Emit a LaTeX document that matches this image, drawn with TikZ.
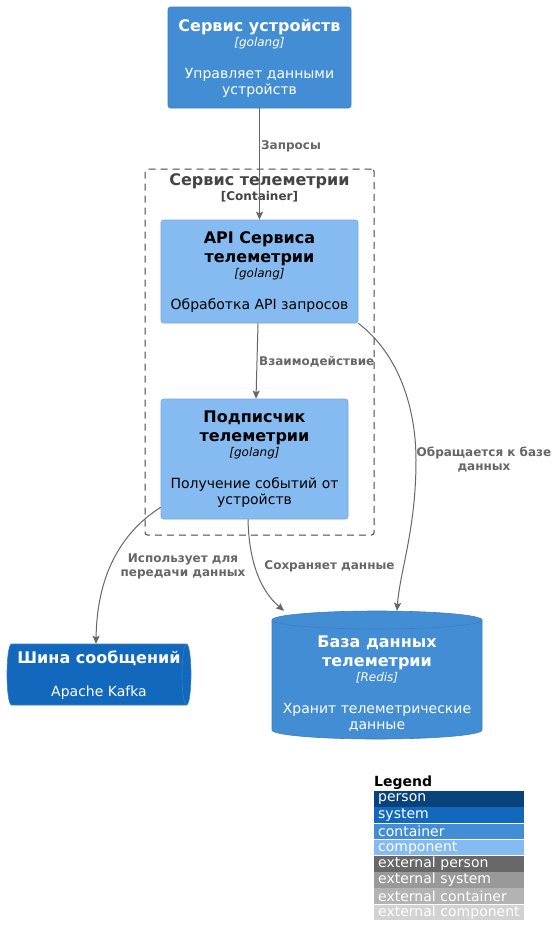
\documentclass[tikz,border=0pt]{standalone}
\usepackage{fontspec}
\setmainfont{DejaVu Sans}
\usetikzlibrary{arrows.meta}
\definecolor{personc}{HTML}{08427B}
\definecolor{systemc}{HTML}{1168BD}
\definecolor{contc}{HTML}{438DD5}
\definecolor{compc}{HTML}{85BBF0}
\definecolor{extpc}{HTML}{686868}
\definecolor{extsc}{HTML}{999999}
\definecolor{extcc}{HTML}{B3B3B3}
\definecolor{extcompc}{HTML}{D2D2D2}
\definecolor{contborder}{HTML}{3C7FC0}
\definecolor{compborder}{HTML}{78A8D8}
\definecolor{relc}{HTML}{666666}
\definecolor{bndc}{HTML}{444444}
\newcommand\ttlf{\fontsize{16}{16.5}\selectfont\bfseries}
\newcommand\techf{\fontsize{12}{16.5}\selectfont\itshape}
\newcommand\descf{\fontsize{14}{16.5}\selectfont}
\newcommand\rellf{\fontsize{12}{14}\selectfont\bfseries}
\newcommand\hstr[1]{\rule{0pt}{#1pt}}
\newcommand\dstr{\rule[-4pt]{0pt}{4pt}}
\begin{document}
\begin{tikzpicture}[x=1pt,y=1pt,
  box/.style={rectangle, rounded corners=2.5pt, inner sep=0pt, align=center, font=\descf, line width=0.6pt},
  contbox/.style={box, fill=contc, draw=contborder, text=white},
  compbox/.style={box, fill=compc, draw=compborder, text=black},
  plaintext/.style={inner sep=0pt, align=center, font=\descf},
  rel/.style={draw=relc, line width=1pt, -{Stealth[length=8pt,width=7pt,inset=1.5pt]}},
  rellbl/.style={font=\rellf, text=relc, inner sep=0pt, align=center},
  legrow/.style={anchor=north west, minimum width=150pt, minimum height=15.6pt, text width=142pt, inner xsep=4pt, inner ysep=0pt, align=left, text=white, font=\fontsize{14}{16}\selectfont}
]
\useasboundingbox (0,0) rectangle (554,-946);
\fill[white] (0,0) rectangle (554,-946);

% boundary
\node[draw=bndc, dash pattern=on 7pt off 5pt, rounded corners=2.5pt, line width=1pt, minimum width=229pt, minimum height=366pt, inner sep=0pt] (bnd) at (259.5,-352) {};
\node[plaintext, text=bndc, font=\fontsize{12}{16.5}\selectfont\bfseries] (bndtitle) at (259.5,-188.45)
  {{\ttlf\hstr{12}Сервис телеметрии}\\[-1.9pt]\rule[-3.5pt]{0pt}{3.5pt}[Container]};

% device service
\node[contbox, minimum width=183pt, minimum height=101pt] (dev) at (259.5,-57.5)
  {{\ttlf\hstr{14.5}Сервис устройств}\\[-1.6pt]{\techf [golang]}\\[15.6pt]Управляет данными\\[-0.2pt]устройств\dstr};

% API
\node[compbox, minimum width=197pt, minimum height=103pt] (api) at (259.5,-271.5)
  {{\ttlf\hstr{14}API Сервиса}\\[2.1pt]{\ttlf телеметрии}\\[-1.6pt]{\techf [golang]}\\[15.6pt]Обработка API запросов\dstr};

% subscriber
\node[compbox, minimum width=187pt, minimum height=120pt] (sub) at (254.5,-459)
  {{\ttlf\hstr{13.3}Подписчик}\\[2.1pt]{\ttlf телеметрии}\\[-1.6pt]{\techf [golang]}\\[15.6pt]Получение событий от\\[-0.2pt]устройств\dstr};

% message bus (queue)
\path[fill=systemc, draw=contborder, line width=0.6pt] (11.5,-644) -- (186.5,-644)
  arc[start angle=90, end angle=-90, x radius=4.5pt, y radius=30.5pt] -- (11.5,-705)
  arc[start angle=270, end angle=90, x radius=4.5pt, y radius=30.5pt] -- cycle;
\draw[contborder, line width=0.6pt] (186.5,-644) arc[start angle=90, end angle=270, x radius=4.5pt, y radius=30.5pt];
\node[plaintext, text=white, minimum width=184pt, minimum height=61pt] (bus) at (99,-674.5)
  {{\ttlf\hstr{14.2}Шина сообщений}\\[16.6pt]Apache Kafka\dstr};

% database
\path[fill=contc, draw=contborder, line width=0.6pt] (272,-620) -- (272,-730)
  arc[start angle=180, end angle=360, x radius=105pt, y radius=9pt] -- (482,-620)
  arc[start angle=0, end angle=180, x radius=105pt, y radius=9pt] -- cycle;
\draw[contborder, line width=0.6pt] (272,-620) arc[start angle=180, end angle=360, x radius=105pt, y radius=9pt];
\node[inner sep=0pt, minimum width=210pt, minimum height=128.5pt] (db) at (377,-675.25) {};
\node[plaintext, text=white] (dbtext) at (377,-684.65)
  {{\ttlf\hstr{12}База данных}\\[2.1pt]{\ttlf телеметрии}\\[-1.6pt]{\techf [Redis]}\\[15.6pt]Хранит телеметрические\\[-0.2pt]данные\dstr};

% relations
\draw[rel] (dev.south) -- (api.north);
\node[rellbl, anchor=west] (l1) at (261,-146) {Запросы};

\draw[rel] ([xshift=-1.5pt]api.south) -- ([xshift=1.5pt]sub.north);
\node[rellbl, anchor=west] (l2) at (259,-362) {Взаимодействие};

\draw[rel] (api.south east) .. controls (400,-355) and (416,-410) .. (416,-460)
  .. controls (416,-530) and (400,-570) .. ([xshift=20pt]db.north);
\node[rellbl] (l3) at (484,-460) {Обращается к базе\\данных};

\draw[rel] ([yshift=12pt]sub.south west) .. controls (125,-530) and (97,-570) .. ([xshift=-3pt]bus.north);
\node[rellbl] (l4) at (183,-566) {Использует для\\передачи данных};

\draw[rel] ([xshift=-6.5pt]sub.south) .. controls (249,-565) and (262,-592) .. ([xshift=-93pt]db.north);
\node[rellbl] (l5) at (329.5,-566) {Сохраняет данные};

% legend
\node[anchor=west, inner sep=0pt, font=\fontsize{14}{16}\selectfont\bfseries] (legtitle) at (374,-783) {Legend};
\foreach \c/\t [count=\i from 0] in {personc/person, systemc/system, contc/container, compc/component, extpc/external person, extsc/external system, extcc/external container, extcompc/external component}
  \node[legrow, fill=\c] (leg\i) at (374,{-791-\i*16.2}) {\t};
\end{tikzpicture}
\end{document}
